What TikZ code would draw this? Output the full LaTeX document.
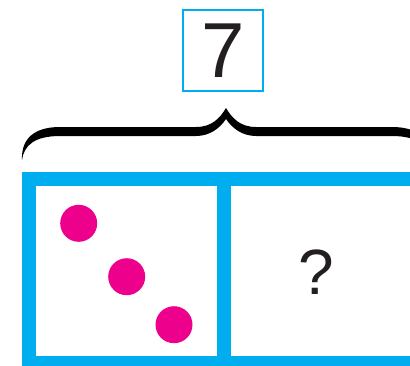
\documentclass[tikz,border=0pt]{standalone}
\usepackage{fontspec}
\setmainfont{Liberation Sans}
\definecolor{frameblue}{HTML}{00AEEF}
\definecolor{dotpink}{HTML}{EC008C}
\definecolor{inkblack}{HTML}{231F20}
\begin{document}
\begin{tikzpicture}[x=1pt,y=-1pt,
  dotnode/.style={circle,fill=dotpink,inner sep=0pt,minimum size=37pt},
  framestroke/.style={draw=frameblue,line width=13.7pt,line join=miter},
  totalbox/.style={draw=frameblue,line width=2pt,minimum width=80pt,minimum height=80.5pt,inner sep=0pt,text=inkblack,font=\fontsize{78}{78}\selectfont}
]
\useasboundingbox (0,0) rectangle (410,365);
\clip (0,0) rectangle (410,365);
\fill[white] (0,0) rectangle (410,365);
% total box
\node[totalbox] (total) at (223.3,50.5) {7};
% brace
\fill[black] (22,160) .. controls (21,138) and (35,127) .. (60,127) -- (196,127)
  .. controls (212,127) and (220,118) .. (226,108)
  .. controls (232,118) and (240,127) .. (256,127) -- (392,127)
  .. controls (417,127) and (431,138) .. (430,160)
  .. controls (428,145) and (417,136) .. (392,136) -- (256,136)
  .. controls (242,136) and (232,128) .. (226,119)
  .. controls (220,128) and (210,136) .. (196,136) -- (60,136)
  .. controls (35,136) and (24,145) .. (22,160) -- cycle;
% frame
\draw[framestroke] (29.2,179.3) rectangle (419,363);
\draw[framestroke] (223.9,179.3) -- (223.9,363);
% dots
\node[dotnode] (d1) at (78.7,223.3) {};
\node[dotnode] (d2) at (126.7,276.7) {};
\node[dotnode] (d3) at (174,324.7) {};
% question mark
\node[text=inkblack,font=\fontsize{64}{64}\selectfont,inner sep=0pt] (q) at (316.7,271.7) {?};
\end{tikzpicture}
\end{document}
